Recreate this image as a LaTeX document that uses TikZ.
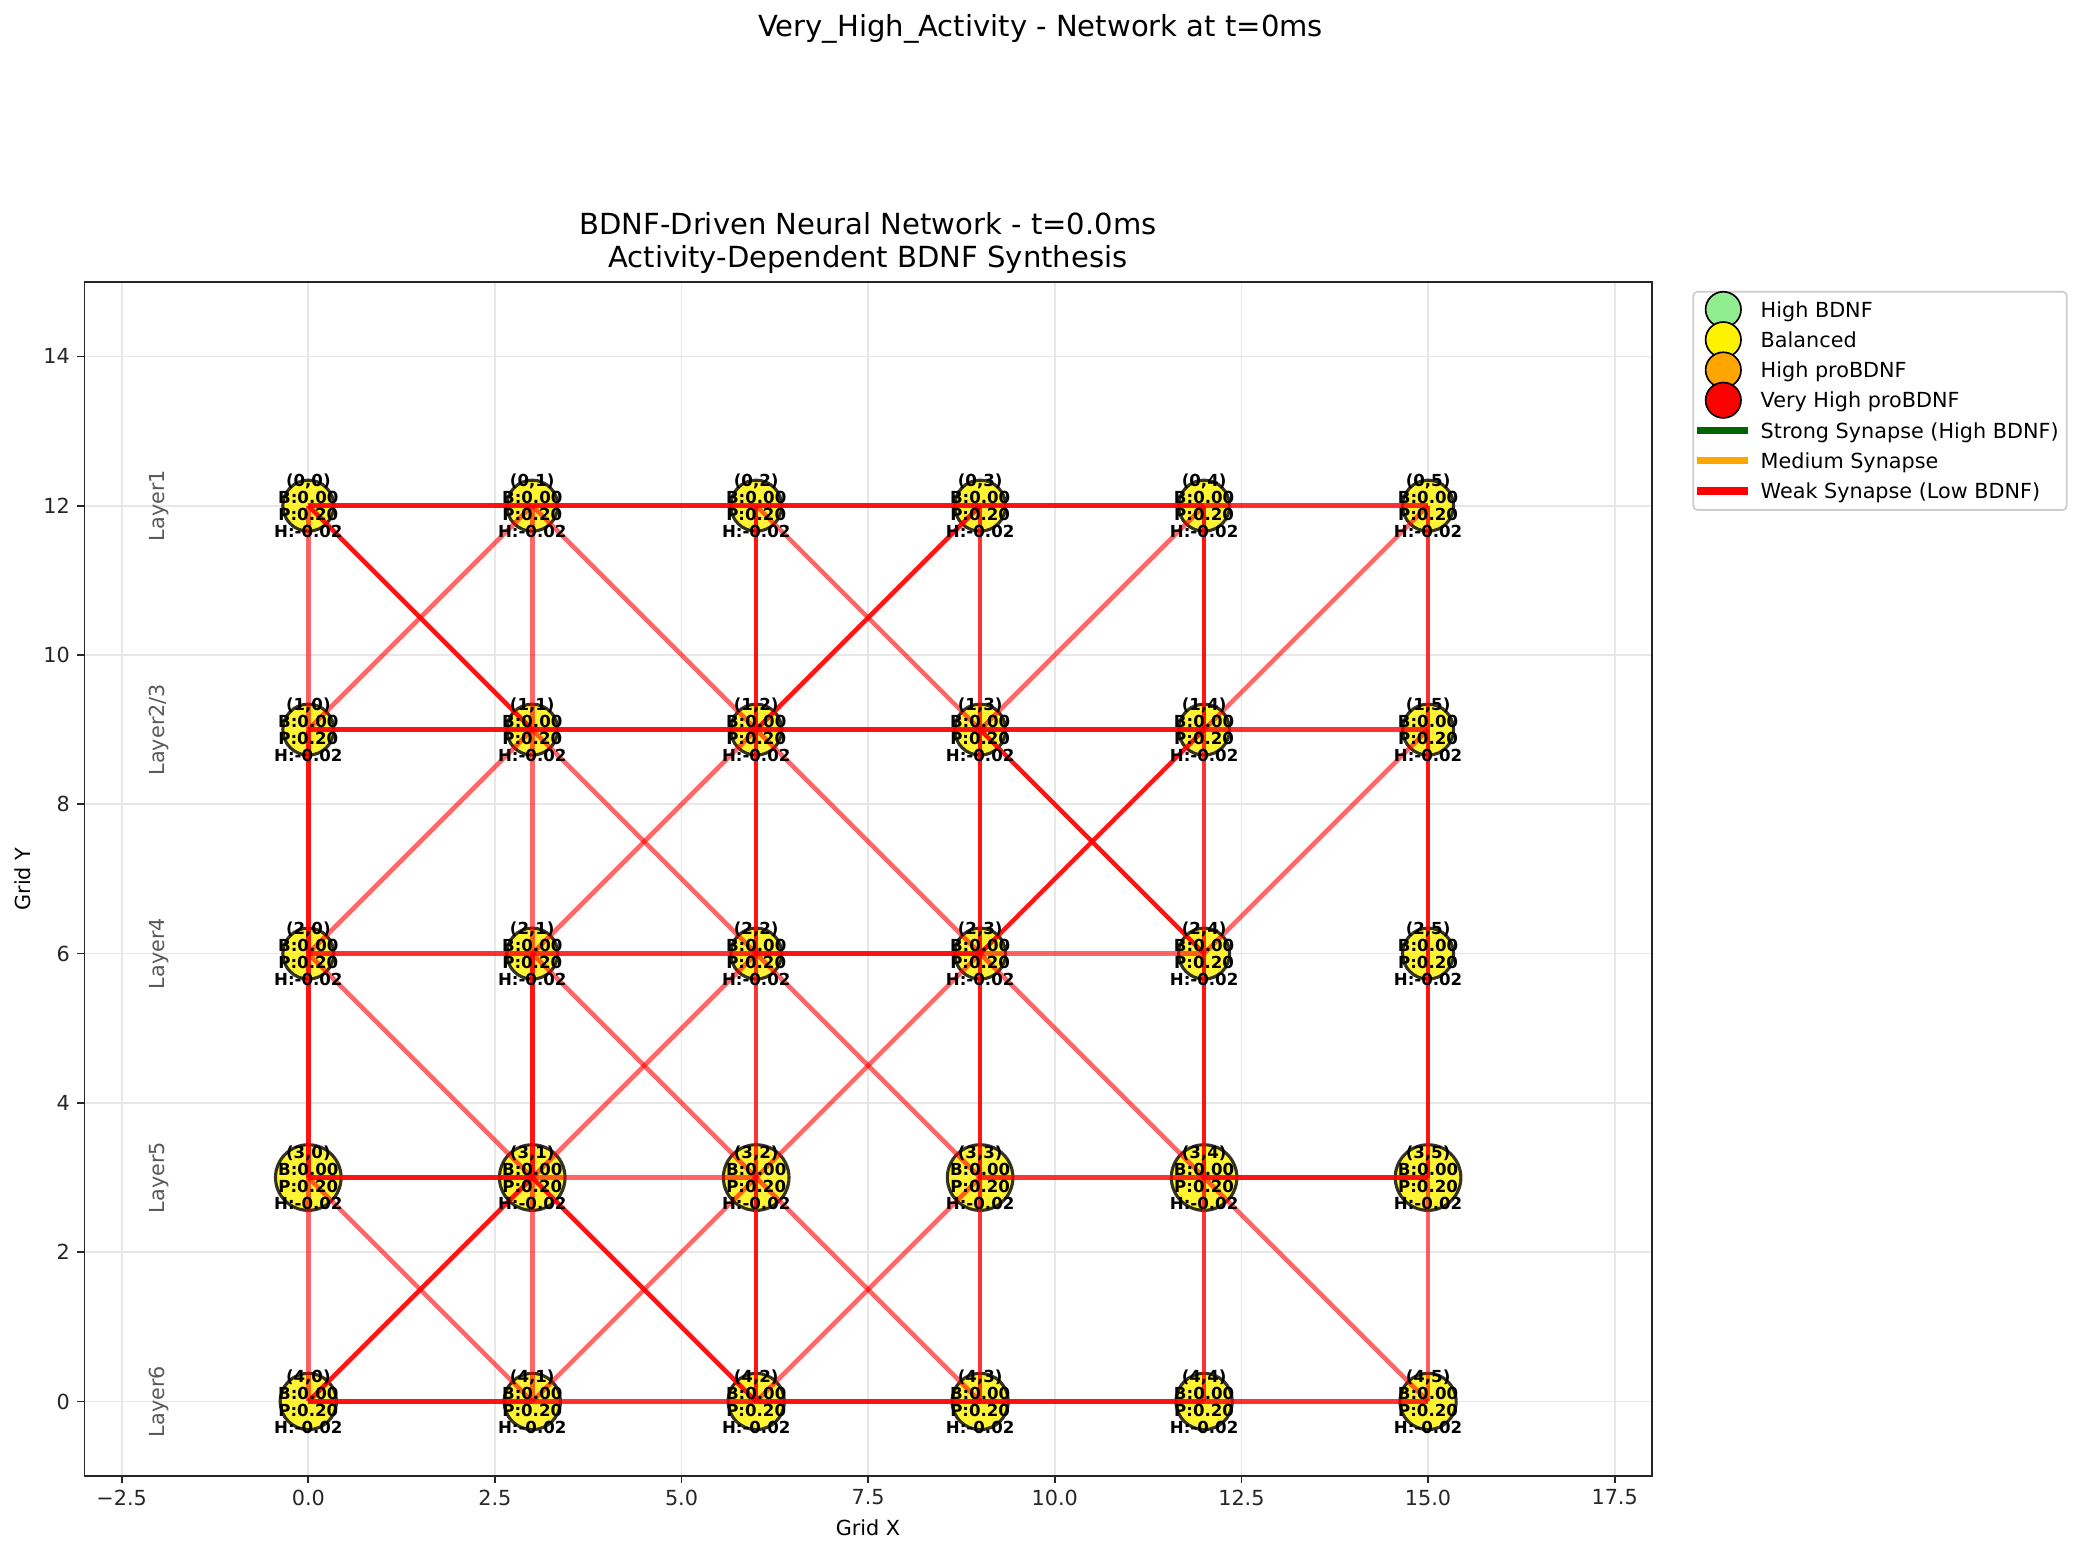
\documentclass[tikz,border=0pt]{standalone}
\usepackage{fontspec}
\setmainfont{DejaVu Sans}
\usetikzlibrary{positioning}
\definecolor{mplgreen}{RGB}{144,238,144}
\definecolor{mplorange}{RGB}{255,165,0}
\definecolor{mpldarkgreen}{RGB}{0,100,0}
\definecolor{gridgray}{RGB}{231,231,231}
\pgfdeclarelayer{gridlayer}
\pgfdeclarelayer{synlayer}
\pgfdeclarelayer{textlayer}
\pgfsetlayers{gridlayer,main,synlayer,textlayer}

\begin{document}
\begin{tikzpicture}[x=0.48bp, y=0.48bp,
    every node/.style={inner sep=0pt, outer sep=0pt},
    ticklabel/.style={font=\fontsize{10}{12}\selectfont},
    neuron/.style={circle, draw=black, draw opacity=0.8, fill=yellow, fill opacity=0.8, line width=1.5pt},
    readout/.style={font=\bfseries\fontsize{8}{8.2}\selectfont, align=center},
    synstrong/.style={red, opacity=0.92, line width=2.2pt},
    synmid/.style={red, opacity=0.8, line width=2.2pt},
    synweak/.style={red, opacity=0.6, line width=2.2pt},
    layertag/.style={font=\fontsize{10}{12}\selectfont, text=black!65, rotate=90},
    legmark/.style={circle, draw=black, line width=0.8pt, minimum size=17bp},
    legline/.style={line width=3.5pt},
    legtext/.style={font=\fontsize{10}{12}\selectfont, anchor=base west}]

    \useasboundingbox (0,0) rectangle (2081,1554);
    \begin{pgfonlayer}{gridlayer}
        \fill[white] (0,0) rectangle (2081,1554);
    \end{pgfonlayer}

    % titles
    \node (suptitle) [font=\fontsize{14}{16.8}\selectfont, anchor=base] at (1040.5,1517) {Very\_High\_Activity - Network at t=0ms};
    \node (title-a) [font=\fontsize{14}{16.8}\selectfont, anchor=base] at (868,1319) {BDNF-Driven Neural Network - t=0.0ms};
    \node (title-b) [font=\fontsize{14}{16.8}\selectfont, anchor=base] at (868,1286) {Activity-Dependent BDNF Synthesis};
    \node (xlabel) [ticklabel] at (868,26.5) {Grid X};
    \node (ylabel) [ticklabel, rotate=90] at (22.5,675) {Grid Y};

    \begin{scope}[shift={(308.3,152.5)}, x=35.83bp, y=35.83bp]
        % grid
        \begin{pgfonlayer}{gridlayer}
            \foreach \gx in {-2.5,0,...,17.5}
                \draw[gridgray, line width=0.8pt] (\gx,-1) -- (\gx,15);
            \foreach \gy in {0,2,...,14}
                \draw[gridgray, line width=0.8pt] (-3,\gy) -- (18,\gy);
        \end{pgfonlayer}

        % ticks
        \foreach \gx/\txt [count=\i] in {-2.5/−2.5, 0/0.0, 2.5/2.5, 5/5.0, 7.5/7.5, 10/10.0, 12.5/12.5, 15/15.0, 17.5/17.5}
            \draw[black!85, line width=0.8pt] (\gx,-1) -- ++(0,-3.5pt) node (xtick\i) [ticklabel, anchor=north, yshift=-3pt] {\txt};
        \foreach \gy [count=\i] in {0,2,...,14}
            \draw[black!85, line width=0.8pt] (-3,\gy) -- ++(-3.5pt,0) node (ytick\i) [ticklabel, anchor=east, xshift=-3.5pt] {\gy};

        % layer names
        \foreach \r/\name in {0/Layer1, 1/{Layer2/3}, 2/Layer4, 3/Layer5, 4/Layer6}
            \node (layer\r) [layertag] at (-2,{12-3*\r}) {\name};

        % neurons
        \foreach \r/\sz in {0/24.5bp, 1/24.5bp, 2/24.5bp, 3/31.5bp, 4/27bp} {
            \foreach \c in {0,...,5} {
                \node (n-\r-\c) [neuron, minimum size=\sz] at ({3*\c},{12-3*\r}) {};
                \begin{pgfonlayer}{textlayer}
                    \node (lbl-\r-\c) [readout] at (n-\r-\c.center) {(\r,\c)\\B:0.00\\P:0.20\\H:-0.02};
                \end{pgfonlayer}
            }
        }

        % synapses
        \begin{pgfonlayer}{synlayer}
            \foreach \a/\b in {0-0/0-1, 0-1/0-2, 0-2/0-3, 0-3/0-4, 1-0/1-1, 1-1/1-2, 1-2/1-3, 1-3/1-4,
                2-2/2-3, 3-0/3-1, 3-4/3-5, 4-0/4-1, 4-2/4-3, 4-3/4-4,
                1-0/2-0, 2-0/3-0, 2-1/3-1, 0-2/1-2, 1-2/2-2, 3-2/4-2, 1-3/2-3, 2-3/3-3,
                0-4/1-4, 2-4/3-4, 1-5/2-5, 2-5/3-5,
                0-0/1-1, 1-2/0-3, 1-3/2-4, 2-3/1-4, 4-0/3-1, 3-1/4-2}
                \draw[synstrong] (n-\a.center) -- (n-\b.center);
            \foreach \a/\b in {0-4/0-5, 1-4/1-5, 2-0/2-1, 2-1/2-2, 3-3/3-4, 4-1/4-2, 4-4/4-5,
                2-2/3-2, 0-3/1-3, 3-3/4-3, 1-4/2-4, 3-4/4-4, 0-5/1-5}
                \draw[synmid] (n-\a.center) -- (n-\b.center);
            \foreach \a/\b in {2-3/2-4, 3-1/3-2,
                0-0/1-0, 3-0/4-0, 0-1/1-1, 1-1/2-1, 3-1/4-1, 3-5/4-5,
                1-0/0-1, 0-1/1-2, 0-2/1-3, 1-3/0-4, 1-4/0-5,
                2-0/1-1, 1-1/2-2, 2-1/1-2, 1-2/2-3, 2-4/1-5,
                2-0/3-1, 3-1/2-2, 2-1/3-2, 3-2/2-3, 2-2/3-3, 2-3/3-4,
                3-0/4-1, 4-1/3-2, 3-2/4-3, 4-2/3-3, 3-4/4-5}
                \draw[synweak] (n-\a.center) -- (n-\b.center);
        \end{pgfonlayer}

        % frame
        \draw[black!85, line width=0.8pt] (-3,-1) rectangle (18,15);
    \end{scope}

    % legend
    \draw[black!20, fill=white, line width=0.8pt, rounded corners=2bp] (1693.3,1262.3) rectangle (2066.7,1044);
    \foreach \fillc/\txt [count=\i from 0] in {mplgreen/High BDNF, yellow/Balanced, mplorange/High proBDNF, red/Very High proBDNF} {
        \node (legmark\i) [legmark, fill=\fillc] at (1723.3,{1244.5-30.25*\i}) {};
        \node (legtext\i) [legtext] at (1760.7,{1236.9-30.25*\i}) {\txt};
    }
    \foreach \linec/\txt [count=\i from 4] in {mpldarkgreen/Strong Synapse (High BDNF), mplorange/Medium Synapse, red/Weak Synapse (Low BDNF)} {
        \coordinate (legA\i) at (1697.3,{1244.5-30.25*\i});
        \coordinate (legB\i) at (1748.3,{1244.5-30.25*\i});
        \draw[legline, \linec] (legA\i) -- (legB\i);
        \node (legtext\i) [legtext] at (1760.7,{1236.9-30.25*\i}) {\txt};
    }
\end{tikzpicture}
\end{document}
